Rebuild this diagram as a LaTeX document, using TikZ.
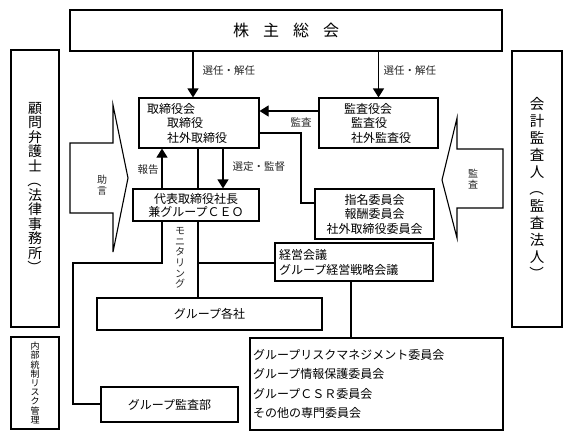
\documentclass[tikz,border=0pt]{standalone}
\usepackage{fontspec}
\usepackage{graphicx}
\setmainfont{Noto Sans CJK JP}
\usetikzlibrary{arrows.meta,calc}
\newcommand{\vopen}{\rotatebox[origin=c]{-90}{（}}
\newcommand{\vclose}{\rotatebox[origin=c]{-90}{）}}
\begin{document}
\begin{tikzpicture}[x=1pt,y=-1pt,line width=1.1pt,
  box/.style={draw,rectangle,inner sep=0pt,font=\fontsize{12}{14.5}\selectfont},
  lbl/.style={inner sep=0pt,font=\fontsize{10.5}{12}\selectfont,text=black!85},
  vlbl/.style={inner sep=0pt,align=center,font=\fontsize{10}{10.5}\selectfont,text=black!85},
  arr/.style={-{Triangle[width=11pt,length=9pt]}},
  blockarrow/.style={draw,line join=miter}]
\useasboundingbox (0,0) rectangle (567,437);

% boxes
\node[box,minimum width=432pt,minimum height=41pt,font=\fontsize{16}{18}\selectfont] (kabu) at (286,30.5) {株\hspace{14pt}主\hspace{14pt}総\hspace{14pt}会};
\node[box,minimum width=48pt,minimum height=277pt,align=center,font=\fontsize{14}{14.5}\selectfont] (komon) at (35,188.5) {顧\\問\\弁\\護\\士\\\vopen\\法\\律\\事\\務\\所\\\vclose};
\node[box,minimum width=48pt,minimum height=92pt,align=center,font=\fontsize{9}{9.2}\selectfont] (naibu) at (35,383) {内\\部\\統\\制\\リ\\ス\\ク\\管\\理};
\node[box,minimum width=50pt,minimum height=276pt,align=center,font=\fontsize{14.5}{17}\selectfont] (kaikei) at (537,189) {会\\計\\監\\査\\人\\\vopen\\監\\査\\法\\人\\\vclose};
\node[box,minimum width=120pt,minimum height=50pt,text width=104pt,align=left] (tori) at (199,123) {取締役会\\\hspace*{20pt}取締役\\\hspace*{20pt}社外取締役};
\node[box,minimum width=119pt,minimum height=50pt,text width=69pt,align=left] (kansa) at (378.5,123) {監査役会\\\hspace*{7pt}監査役\\\hspace*{7pt}社外監査役};
\node[box,minimum width=126pt,minimum height=32pt,align=center,font=\fontsize{12}{13}\selectfont] (ceo) at (196,205) {代表取締役社長\\兼グループＣＥＯ};
\node[box,minimum width=119pt,minimum height=50pt,align=center] (shimei) at (374.5,214) {指名委員会\\報酬委員会\\社外取締役委員会};
\node[box,minimum width=158pt,minimum height=38pt,text width=150pt,align=left,font=\fontsize{12}{15}\selectfont] (keiei) at (354,262) {経営会議\\グループ経営戦略会議};
\node[box,minimum width=225pt,minimum height=32pt] (kaku) at (209.5,314) {グループ各社};
\node[box,minimum width=253pt,minimum height=92pt,text width=247pt,align=left,font=\fontsize{12}{19.5}\selectfont] (risk) at (376.5,384) {グループリスクマネジメント委員会\\グループ情報保護委員会\\グループＣＳＲ委員会\\その他の専門委員会};
\node[box,minimum width=137pt,minimum height=35pt] (kansabu) at (169.5,404.5) {グループ監査部};

% block arrows
\draw[blockarrow] (70,143) -- (113,143) -- (113,105) -- (128,178) -- (113,252) -- (113,213) -- (70,213) -- cycle;
\draw[blockarrow] (503,149) -- (457,149) -- (457,118) -- (442,180) -- (457,238) -- (457,208) -- (503,208) -- cycle;

% labels
\node[lbl,anchor=west] (l1) at (202,71) {選任・解任};
\node[lbl,anchor=west] (l2) at (383,71) {選任・解任};
\node[lbl,anchor=west] (l3) at (290,122) {監査};
\node[lbl,anchor=west] (l4) at (137,170) {報告};
\node[lbl,anchor=west] (l5) at (232,167) {選定・監督};
\node[vlbl] (l6) at (102,185) {助\\言};
\node[vlbl] (l7) at (473,179) {監\\査};
\node[vlbl,font=\fontsize{10}{10.6}\selectfont] (l8) at (180,258) {モ\\ニ\\タ\\リ\\ン\\グ};

% connectors
\coordinate (xa) at (193,0);
\draw[arr] (kabu.south -| xa) -- (tori.north -| xa);
\draw[arr] (kabu.south -| kansa.north) -- (kansa.north);
\coordinate (ya) at (0,111);
\draw[arr] (kansa.west |- ya) -- (tori.east |- ya);
\coordinate (yb) at (301,133);
\coordinate (yc) at (301,203);
\draw (tori.east |- yb) -- (yb) -- (yc) -- (shimei.west |- yc);
\coordinate (xb) at (162,0);
\coordinate (xc) at (198,0);
\coordinate (xd) at (223,0);
\draw[arr] (ceo.north -| xb) -- (tori.south -| xb);
\draw (tori.south -| xc) -- (ceo.north -| xc);
\draw[arr] (tori.south -| xd) -- (ceo.north -| xd);
\coordinate (m1) at (162,263);
\coordinate (m2) at (73,263);
\coordinate (m3) at (73,404);
\draw (ceo.south -| m1) -- (m1) -- (m2) -- (m3) -- (kansabu.west |- m3);
\coordinate (j) at (198,263);
\draw (ceo.south -| j) -- (kaku.north -| j);
\draw (j) -- (keiei.west |- j);
\coordinate (xe) at (351,0);
\draw (keiei.south -| xe) -- (risk.north -| xe);
\end{tikzpicture}
\end{document}
